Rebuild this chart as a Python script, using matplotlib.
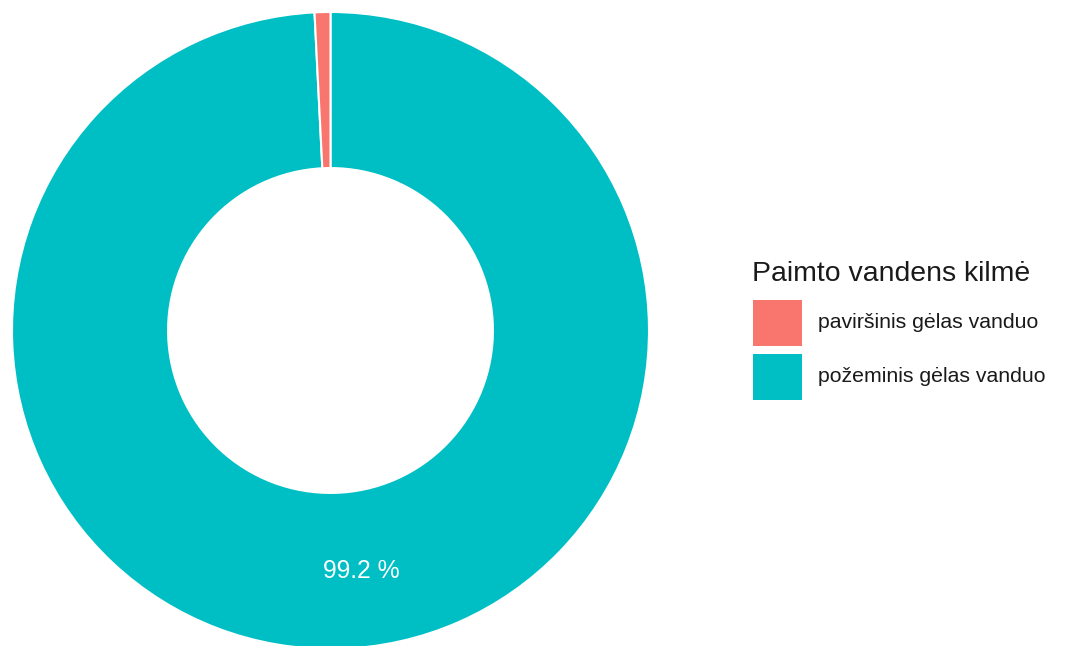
import numpy as np
import matplotlib
matplotlib.use("Agg")
import matplotlib.pyplot as plt
from matplotlib.patches import Rectangle

# Data
categories = ["paviršinis gėlas vanduo", "požeminis gėlas vanduo"]
shares = [0.8, 99.2]
colors = ["#F8766D", "#00BFC4"]
legend_title = "Paimto vandens kilmė"
label_texts = ["", "99.2 %"]

W, H = 1067, 646
fig = plt.figure(figsize=(W / 100, H / 100), dpi=100)
plt.rcParams['font.family'] = ['Liberation Sans', 'DejaVu Sans']

def px(x, y):
    return x / W, (H - y) / H

cx, cy, R = 330.5, 330.5, 318.5
ax = fig.add_axes([(cx - R) / W, (H - cy - R) / H, 2 * R / W, 2 * R / H])

# draw order: teal first from top clockwise, then red
order = [1, 0]
vals = [shares[i] for i in order]
cols = [colors[i] for i in order]
wedges, _ = ax.pie(vals, colors=cols, startangle=90, counterclock=False,
                   radius=1.0, wedgeprops=dict(width=0.49, edgecolor="white", linewidth=1.5))
ax.set_xlim(-1, 1)
ax.set_ylim(-1, 1)
ax.set_aspect("equal")
ax.axis("off")

# label for the large slice
total = sum(vals)
mid_frac = (vals[0] / 2) / total
ang = np.deg2rad(90 - 360 * mid_frac + 5.8)
r_lab = 0.76
ax.text(r_lab * np.cos(ang), r_lab * np.sin(ang), label_texts[order[0]],
        color="white", fontsize=17.8, ha="center", va="center")

# legend
fig.text(*px(752, 281), legend_title, fontsize=20.4, ha="left", va="baseline", color="#1a1a1a")
key_tops = [300, 354]
for i, (cat, col) in enumerate(zip(categories, colors)):
    kx, ky = px(753, key_tops[i] + 46)
    fig.add_artist(Rectangle((kx, ky), 49 / W, 46 / H, transform=fig.transFigure,
                             facecolor=col, edgecolor="none"))
    fig.text(*px(818, key_tops[i] + 23), cat, fontsize=15.3, ha="left", va="center",
             color="#1a1a1a")

fig.savefig("out.png", dpi=100)
